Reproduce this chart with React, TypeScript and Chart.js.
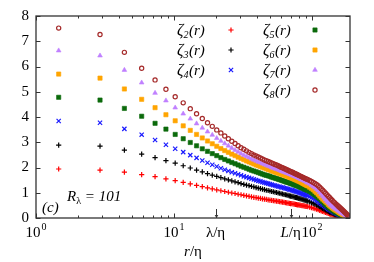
import React, { useEffect, useRef } from "react";
import { Chart, registerables } from "chart.js";
import { drawPoint } from "chart.js/helpers";

Chart.register(...registerables);

// r/eta sample positions (grid points)
const rValues = [1.46, 2.91, 4.37, 5.83, 7.29, 8.74, 10.2, 11.66, 13.12, 14.57, 16.03, 17.49, 18.94, 20.4, 21.86, 23.32, 24.77, 26.23, 27.69, 29.15, 30.6, 32.06, 33.52, 34.98, 36.43, 37.89, 39.35, 40.8, 42.26, 43.72, 45.18, 46.63, 48.09, 49.55, 51.01, 52.46, 53.92, 55.38, 56.83, 58.29, 59.75, 61.21, 62.66, 64.12, 65.58, 67.04, 68.49, 69.95, 71.41, 72.87, 74.32, 75.78, 77.24, 78.69, 80.15, 81.61, 83.07, 84.52, 85.98, 87.44, 88.9, 90.35, 91.81, 93.27, 96.18, 99.1, 102.01, 104.93, 107.84, 110.75, 113.67, 116.58, 119.5, 122.41, 125.33, 128.24, 131.16, 134.07, 136.99, 139.9, 142.82, 145.73, 148.64, 151.56, 154.47, 157.39, 160.3, 163.22, 166.13, 169.05, 171.96, 174.88, 177.79, 180.71, 183.62, 186.53];

const zeta2 = [1.94, 1.90, 1.82, 1.72, 1.64, 1.55, 1.48, 1.41, 1.35, 1.29, 1.24, 1.19, 1.15, 1.11, 1.08, 1.05, 1.02, 0.99, 0.97, 0.94, 0.92, 0.90, 0.88, 0.86, 0.84, 0.82, 0.81, 0.79, 0.78, 0.76,
  0.75, 0.74, 0.72, 0.71, 0.70, 0.69, 0.68, 0.67, 0.66, 0.65, 0.64, 0.63, 0.62, 0.61, 0.60, 0.59, 0.58, 0.57, 0.57, 0.56, 0.55, 0.54, 0.53, 0.52, 0.52, 0.51, 0.50, 0.49, 0.49, 0.48, 0.47, 0.46, 0.46, 0.45,
  0.43, 0.41, 0.39, 0.37, 0.35, 0.33, 0.30, 0.28, 0.26, 0.24, 0.22, 0.20, 0.18, 0.16, 0.14, 0.13, 0.12, 0.11, 0.10, 0.09, 0.08, 0.07, 0.06, 0.05, 0.05, 0.04, 0.04, 0.03, 0.03, 0.03, 0.02, 0.02];
const zeta3 = [2.89, 2.85, 2.69, 2.53, 2.39, 2.27, 2.17, 2.07, 1.98, 1.90, 1.83, 1.76, 1.70, 1.65, 1.60, 1.55, 1.51, 1.47, 1.43, 1.40, 1.36, 1.33, 1.30, 1.28, 1.25, 1.23, 1.20, 1.18, 1.16, 1.14,
  1.12, 1.10, 1.09, 1.07, 1.05, 1.04, 1.02, 1.01, 0.99, 0.98, 0.96, 0.95, 0.93, 0.92, 0.91, 0.90, 0.88, 0.87, 0.86, 0.85, 0.83, 0.82, 0.81, 0.80, 0.78, 0.77, 0.76, 0.75, 0.73, 0.72, 0.71, 0.70, 0.68, 0.67,
  0.64, 0.61, 0.58, 0.55, 0.52, 0.48, 0.45, 0.41, 0.38, 0.35, 0.32, 0.29, 0.26, 0.23, 0.21, 0.19, 0.17, 0.15, 0.13, 0.12, 0.10, 0.09, 0.08, 0.07, 0.06, 0.05, 0.05, 0.04, 0.04, 0.03, 0.03, 0.03];
const zeta4 = [3.84, 3.77, 3.53, 3.30, 3.09, 2.90, 2.74, 2.61, 2.49, 2.38, 2.28, 2.19, 2.11, 2.04, 1.97, 1.91, 1.86, 1.81, 1.77, 1.73, 1.69, 1.65, 1.62, 1.59, 1.56, 1.53, 1.50, 1.47, 1.45, 1.42,
  1.40, 1.38, 1.36, 1.34, 1.32, 1.30, 1.29, 1.27, 1.25, 1.24, 1.22, 1.21, 1.19, 1.18, 1.16, 1.15, 1.13, 1.12, 1.10, 1.09, 1.07, 1.06, 1.04, 1.03, 1.01, 1.00, 0.98, 0.97, 0.95, 0.94, 0.92, 0.91, 0.89, 0.88,
  0.85, 0.81, 0.77, 0.73, 0.69, 0.65, 0.60, 0.56, 0.52, 0.48, 0.44, 0.40, 0.36, 0.33, 0.30, 0.27, 0.24, 0.22, 0.19, 0.17, 0.15, 0.13, 0.11, 0.10, 0.08, 0.07, 0.06, 0.05, 0.05, 0.04, 0.04, 0.03];
const zeta5 = [4.78, 4.67, 4.34, 4.03, 3.75, 3.52, 3.31, 3.14, 2.99, 2.86, 2.74, 2.64, 2.55, 2.47, 2.39, 2.32, 2.26, 2.20, 2.15, 2.10, 2.05, 2.01, 1.97, 1.93, 1.89, 1.86, 1.83, 1.80, 1.77, 1.74,
  1.71, 1.69, 1.67, 1.65, 1.62, 1.60, 1.58, 1.56, 1.54, 1.52, 1.50, 1.48, 1.46, 1.44, 1.42, 1.41, 1.39, 1.37, 1.35, 1.34, 1.32, 1.30, 1.28, 1.27, 1.25, 1.23, 1.21, 1.20, 1.18, 1.16, 1.14, 1.13, 1.11, 1.09,
  1.05, 1.00, 0.96, 0.91, 0.86, 0.81, 0.76, 0.70, 0.65, 0.59, 0.54, 0.49, 0.44, 0.40, 0.36, 0.32, 0.29, 0.26, 0.23, 0.21, 0.18, 0.16, 0.14, 0.12, 0.10, 0.09, 0.07, 0.06, 0.05, 0.05, 0.04, 0.03];
const zeta6 = [5.70, 5.54, 5.11, 4.70, 4.37, 4.09, 3.85, 3.65, 3.47, 3.31, 3.17, 3.05, 2.94, 2.84, 2.75, 2.67, 2.60, 2.53, 2.47, 2.41, 2.36, 2.31, 2.26, 2.22, 2.18, 2.14, 2.10, 2.07, 2.04, 2.01,
  1.98, 1.95, 1.92, 1.90, 1.87, 1.85, 1.82, 1.80, 1.78, 1.76, 1.74, 1.72, 1.70, 1.68, 1.66, 1.64, 1.62, 1.60, 1.58, 1.56, 1.54, 1.52, 1.50, 1.48, 1.46, 1.44, 1.42, 1.40, 1.37, 1.35, 1.33, 1.31, 1.29, 1.27,
  1.22, 1.17, 1.12, 1.06, 1.00, 0.94, 0.87, 0.81, 0.75, 0.70, 0.65, 0.60, 0.54, 0.49, 0.45, 0.41, 0.37, 0.34, 0.31, 0.28, 0.25, 0.22, 0.19, 0.17, 0.14, 0.12, 0.10, 0.08, 0.06, 0.05, 0.04, 0.03];
const zeta7 = [6.63, 6.43, 5.86, 5.36, 4.95, 4.65, 4.37, 4.13, 3.93, 3.74, 3.57, 3.42, 3.29, 3.16, 3.05, 2.95, 2.86, 2.77, 2.69, 2.62, 2.55, 2.49, 2.44, 2.39, 2.34, 2.30, 2.26, 2.22, 2.19, 2.15,
  2.12, 2.09, 2.06, 2.03, 2.00, 1.98, 1.95, 1.93, 1.91, 1.89, 1.86, 1.84, 1.82, 1.80, 1.78, 1.76, 1.74, 1.72, 1.70, 1.68, 1.66, 1.64, 1.62, 1.60, 1.58, 1.56, 1.54, 1.52, 1.50, 1.48, 1.46, 1.44, 1.41, 1.39,
  1.35, 1.30, 1.25, 1.20, 1.14, 1.08, 1.01, 0.94, 0.87, 0.80, 0.73, 0.67, 0.61, 0.56, 0.51, 0.47, 0.43, 0.40, 0.36, 0.33, 0.30, 0.27, 0.24, 0.21, 0.18, 0.16, 0.13, 0.11, 0.09, 0.07, 0.05, 0.03];
const zeta8 = [7.52, 7.27, 6.56, 5.93, 5.47, 5.10, 4.80, 4.56, 4.33, 4.13, 3.94, 3.77, 3.63, 3.49, 3.37, 3.25, 3.14, 3.04, 2.95, 2.86, 2.78, 2.72, 2.66, 2.60, 2.55, 2.50, 2.46, 2.42, 2.38, 2.34,
  2.30, 2.27, 2.24, 2.21, 2.18, 2.15, 2.12, 2.10, 2.07, 2.04, 2.01, 1.99, 1.96, 1.94, 1.91, 1.89, 1.86, 1.84, 1.82, 1.80, 1.77, 1.75, 1.73, 1.71, 1.69, 1.67, 1.65, 1.63, 1.61, 1.59, 1.57, 1.55, 1.54, 1.52,
  1.49, 1.45, 1.41, 1.37, 1.33, 1.28, 1.22, 1.16, 1.10, 1.04, 0.98, 0.92, 0.86, 0.81, 0.75, 0.70, 0.65, 0.61, 0.56, 0.52, 0.48, 0.44, 0.40, 0.36, 0.32, 0.28, 0.24, 0.20, 0.16, 0.12, 0.08, 0.04];

const seriesOrders = ["2", "3", "4", "5", "6", "7", "8"];
const yTickValues = [0, 1, 2, 3, 4, 5, 6, 7, 8];
const xMajorTicks = [1, 10, 100];
const xMajorExps = ["0", "1", "2"];
const xMinorTicks = [2, 3, 4, 5, 6, 7, 8, 9, 20, 30, 40, 50, 60, 70, 80, 90];
const xMarkTicks = [20, 70];
const X_MIN = 1;
const X_MAX = 188.5;

const SERIF = "'Liberation Serif', 'Times New Roman', serif";

const styles = [
  { pointStyle: "cross", radius: 2.6, color: "#ff0000", fill: "#ff0000", bw: 1.2 },
  { pointStyle: "cross", radius: 2.6, color: "#000000", fill: "#000000", bw: 1.2 },
  { pointStyle: "crossRot", radius: 3.0, color: "#1a1aff", fill: "#1a1aff", bw: 1.2 },
  { pointStyle: "rect", radius: 3.0, color: "#0b6a0b", fill: "#0b6a0b", bw: 0.6 },
  { pointStyle: "rect", radius: 3.0, color: "#ffa500", fill: "#ffa500", bw: 0.6 },
  { pointStyle: "triangle", radius: 2.7, color: "#c080ff", fill: "#c080ff", bw: 0.6 },
  { pointStyle: "circle", radius: 2.1, color: "#a52a2a", fill: "rgba(0,0,0,0)", bw: 1.2 },
];

const allSeries = [zeta2, zeta3, zeta4, zeta5, zeta6, zeta7, zeta8];

// legend layout: [textX, markerX, rowY]
const legendSlots = [
  [177, 231, 30],
  [177, 231, 50],
  [177, 231, 70],
  [263, 315, 30],
  [263, 315, 50],
  [263, 315, 70],
  [263, 315, 90],
];

function line(ctx: CanvasRenderingContext2D, x1: number, y1: number, x2: number, y2: number) {
  ctx.beginPath();
  ctx.moveTo(x1, y1);
  ctx.lineTo(x2, y2);
  ctx.stroke();
}

const overlay = {
  id: "overlay",
  afterDatasetsDraw(chart: any) {
    const { ctx, chartArea: a, scales } = chart;
    const xs = scales.x;
    const ys = scales.y;
    ctx.save();
    ctx.strokeStyle = "#333";
    ctx.lineWidth = 1.3;
    ctx.strokeRect(a.left, a.top, a.right - a.left, a.bottom - a.top);
    ctx.lineWidth = 1;
    for (const v of yTickValues) {
      const py = Math.round(ys.getPixelForValue(v)) + 0.5;
      line(ctx, a.left, py, a.left + 4.5, py);
      line(ctx, a.right, py, a.right - 4.5, py);
    }
    for (const v of xMajorTicks) {
      const px = Math.round(xs.getPixelForValue(v)) + 0.5;
      line(ctx, px, a.bottom, px, a.bottom - 4.5);
      line(ctx, px, a.top, px, a.top + 4.5);
    }
    for (const v of xMinorTicks) {
      const px = Math.round(xs.getPixelForValue(v)) + 0.5;
      line(ctx, px, a.bottom, px, a.bottom - 2.5);
      line(ctx, px, a.top, px, a.top + 2.5);
    }
    for (const v of xMarkTicks) {
      const px = Math.round(xs.getPixelForValue(v)) + 0.5;
      line(ctx, px, a.bottom - 9, px, a.bottom);
      ctx.fillStyle = "#333";
      ctx.beginPath();
      ctx.moveTo(px - 1.8, a.bottom - 3);
      ctx.lineTo(px + 1.8, a.bottom - 3);
      ctx.lineTo(px, a.bottom);
      ctx.closePath();
      ctx.fill();
    }
    ctx.restore();
  },
  afterDraw(chart: any) {
    const { ctx, chartArea: a, scales } = chart;
    const xs = scales.x;
    ctx.save();
    ctx.fillStyle = "#000";
    ctx.textBaseline = "alphabetic";
    ctx.textAlign = "left";
    const big = `15px ${SERIF}`;
    const small = `10px ${SERIF}`;
    const ibig = `italic 15px ${SERIF}`;
    const ilegend = `italic 16px ${SERIF}`;
    const ismall = `italic 10px ${SERIF}`;
    const baseY = a.bottom + 19;
    xMajorTicks.forEach((v, i) => {
      const px = xs.getPixelForValue(v);
      ctx.font = big;
      const wb = ctx.measureText("10").width;
      ctx.font = small;
      const we = ctx.measureText(xMajorExps[i]).width;
      const start = px - (wb + we + 1) / 2;
      ctx.font = big;
      ctx.fillText("10", start, baseY);
      ctx.font = small;
      ctx.fillText(xMajorExps[i], start + wb + 1, baseY - 7);
    });
    {
      const px = xs.getPixelForValue(xMarkTicks[0]);
      ctx.font = big;
      const t = "\u03bb/\u03b7";
      const w = ctx.measureText(t).width;
      ctx.fillText(t, px - w / 2, baseY);
    }
    {
      const px = xs.getPixelForValue(xMarkTicks[1]);
      ctx.font = ibig;
      const wL = ctx.measureText("L").width;
      ctx.font = big;
      const wr = ctx.measureText("/\u03b7").width;
      const start = px - (wL + wr) / 2;
      ctx.font = ibig;
      ctx.fillText("L", start, baseY);
      ctx.font = big;
      ctx.fillText("/\u03b7", start + wL, baseY);
    }
    {
      const cx = (a.left + a.right) / 2;
      ctx.font = ibig;
      const wr = ctx.measureText("r").width;
      ctx.font = big;
      const we = ctx.measureText("/\u03b7").width;
      const start = cx - (wr + we) / 2;
      const y = a.bottom + 38;
      ctx.font = ibig;
      ctx.fillText("r", start, y);
      ctx.font = big;
      ctx.fillText("/\u03b7", start + wr, y);
    }
    ctx.font = ibig;
    ctx.fillText("(c)", a.left + 6, a.bottom - 6);
    {
      let x = a.left + 31;
      const y = a.bottom - 17;
      ctx.font = ibig;
      ctx.fillText("R", x, y);
      x += ctx.measureText("R").width;
      ctx.font = small;
      ctx.fillText("\u03bb", x, y + 3);
      x += ctx.measureText("\u03bb").width;
      ctx.font = ibig;
      ctx.fillText(" = 101", x, y);
    }
    seriesOrders.forEach((p, i) => {
      const [tx, mx, cy] = legendSlots[i];
      const y = cy + 5;
      let x = tx;
      ctx.fillStyle = "#000";
      ctx.font = ilegend;
      ctx.fillText("\u03b6", x, y);
      x += ctx.measureText("\u03b6").width;
      ctx.font = ismall;
      ctx.fillText(p, x, y + 3);
      x += ctx.measureText(p).width + 0.5;
      ctx.font = ibig;
      ctx.fillText("(r)", x, y);
      const s = styles[i];
      ctx.strokeStyle = s.color;
      ctx.fillStyle = s.fill;
      ctx.lineWidth = s.bw;
      drawPoint(ctx, { pointStyle: s.pointStyle, radius: s.radius, rotation: 0, borderWidth: s.bw } as any, mx, cy);
    });
    ctx.restore();
  },
};

export default function App() {
  const canvasRef = useRef<HTMLCanvasElement | null>(null);
  useEffect(() => {
    document.body.style.margin = "0";
    const canvas = canvasRef.current;
    if (!canvas) return;
    const datasets = allSeries.map((vals, i) => ({
      label: "zeta" + seriesOrders[i],
      data: vals.map((v, k) => ({ x: rValues[k], y: v })),
      showLine: false,
      order: allSeries.length - 1 - i,
      pointStyle: styles[i].pointStyle as any,
      pointRadius: styles[i].radius,
      pointBorderWidth: styles[i].bw,
      pointBorderColor: styles[i].color,
      pointBackgroundColor: styles[i].fill,
      borderColor: styles[i].color,
      backgroundColor: styles[i].fill,
    }));
    const chart = new Chart(canvas, {
      type: "scatter",
      data: { datasets },
      options: {
        animation: false,
        responsive: false,
        devicePixelRatio: 1,
        layout: { padding: { left: 0, top: 16, right: 24, bottom: 44 } },
        plugins: { legend: { display: false }, tooltip: { enabled: false } },
        elements: { point: { hitRadius: 0, hoverRadius: 0 } },
        scales: {
          x: { type: "logarithmic", min: X_MIN, max: X_MAX, display: false },
          y: {
            type: "linear",
            min: 0,
            max: 8,
            ticks: { stepSize: 1, color: "#000", padding: 7, font: { family: SERIF, size: 15 } },
            grid: { display: false, drawTicks: false },
            border: { display: false },
            afterFit: (s: any) => {
              s.width = 36;
            },
          },
        },
      },
      plugins: [overlay],
    });
    return () => chart.destroy();
  }, []);
  return (
    <div style={{ width: 374, height: 262, background: "#fff" }}>
      <canvas ref={canvasRef} width={374} height={262} style={{ display: "block" }} />
    </div>
  );
}
